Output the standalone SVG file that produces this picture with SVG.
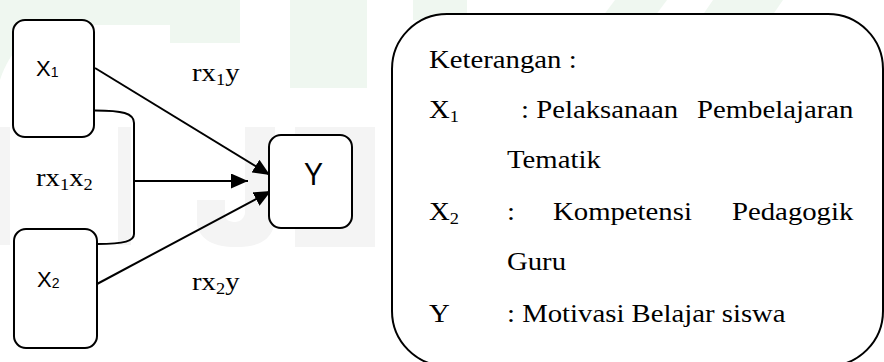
<svg xmlns="http://www.w3.org/2000/svg" width="884" height="362" viewBox="0 0 884 362">
  <style>
    .box { fill: #ffffff; stroke: #000000; stroke-width: 2; }
    .wm-g { fill: #eff7f0; }
    .wm-k { fill: #f4f4f4; }
    .conn { fill: none; stroke: #000000; stroke-width: 2; }
    .sans { font-family: "Liberation Sans", Arial, sans-serif; fill: #000000; }
    .serif { font-family: "Liberation Serif", "Times New Roman", serif; font-size: 25px; fill: #000000; }
    .sub { font-size: 16px; }
  </style>
  <defs>
    <marker id="arr" viewBox="0 0 17 15" refX="17" refY="7.5" markerWidth="17" markerHeight="15" markerUnits="userSpaceOnUse" orient="auto">
      <path d="M0,0 L17,7.5 L0,15 Z" fill="#000000"/>
    </marker>
  </defs>

  <g id="watermark">
    <path class="wm-g" d="M0,0 H170 V25 H55 C30,30 10,50 0,80 Z"/>
    <rect class="wm-g" x="170" y="0" width="70" height="43"/>
    <rect class="wm-g" x="290" y="0" width="77" height="88"/>
    <rect class="wm-g" x="413" y="0" width="54" height="20"/>
    <polygon class="wm-g" points="615,0 667,0 655,16 603,16"/>
    <polygon class="wm-g" points="713,0 783,0 772,16 702,16"/>
    <rect class="wm-k" x="0" y="127" width="10" height="118"/>
    <rect class="wm-k" x="118" y="127" width="13" height="118"/>
    <path class="wm-k" d="M245,127 H275 V215 C275,240 260,247 235,247 C215,247 200,240 197,225 L197,200 H225 V215 C225,220 230,222 235,222 C240,222 245,218 245,212 Z"/>
    <rect class="wm-k" x="295" y="127" width="80" height="120"/>
  </g>

  <g id="connectors">
    <path class="conn" d="M95,110.5 C122,110.5 134,113 134,123 V234 C134,241 125,244 97,244"/>
    <line class="conn" x1="133" y1="181" x2="248" y2="181" marker-end="url(#arr)"/>
    <line class="conn" x1="95" y1="68" x2="270" y2="175" marker-end="url(#arr)"/>
    <line class="conn" x1="97" y1="284" x2="271" y2="191" marker-end="url(#arr)"/>
    <g transform="scale(1.15,1)">
      <text class="serif" x="166.96" y="81">rx<tspan class="sub" dy="4">1</tspan><tspan dy="-4">y</tspan></text>
      <text class="serif" x="31.3" y="186">rx<tspan class="sub" dy="4">1</tspan><tspan dy="-4">x</tspan><tspan class="sub" dy="4">2</tspan></text>
      <text class="serif" x="166.96" y="290">rx<tspan class="sub" dy="4">2</tspan><tspan dy="-4">y</tspan></text>
    </g>
  </g>

  <g id="node-x1">
    <rect class="box" x="13" y="20" width="81" height="117" rx="12" ry="12"/>
    <text class="sans" x="36" y="76" font-size="22">X<tspan font-size="14" dy="1">1</tspan></text>
  </g>

  <g id="node-x2">
    <rect class="box" x="14" y="229" width="83" height="119" rx="12" ry="12"/>
    <text class="sans" x="37" y="287" font-size="22">X<tspan font-size="14" dy="1">2</tspan></text>
  </g>

  <g id="node-y">
    <rect class="box" x="269" y="135" width="83" height="93" rx="12" ry="12"/>
    <text class="sans" x="304" y="185" font-size="32" textLength="19" lengthAdjust="spacingAndGlyphs">Y</text>
  </g>

  <g id="legend">
    <rect class="box" x="392" y="14" width="491" height="352" rx="55" ry="55"/>
    <g transform="scale(1.15,1)">
      <text class="serif" x="373.04" y="68">Keterangan :</text>
      <text class="serif" x="373.04" y="118">X<tspan class="sub" dy="4">1</tspan></text>
      <text class="serif" x="453.04" y="118">: Pelaksanaan</text>
      <text class="serif" x="606.09" y="118">Pembelajaran</text>
      <text class="serif" x="440.87" y="168">Tematik</text>
      <text class="serif" x="373.04" y="220">X<tspan class="sub" dy="4">2</tspan></text>
      <text class="serif" x="440.87" y="220">:</text>
      <text class="serif" x="480.87" y="220">Kompetensi</text>
      <text class="serif" x="636.52" y="220">Pedagogik</text>
      <text class="serif" x="440.87" y="270">Guru</text>
      <text class="serif" x="373.04" y="322">Y</text>
      <text class="serif" x="440.87" y="322">: Motivasi Belajar siswa</text>
    </g>
  </g>
</svg>
